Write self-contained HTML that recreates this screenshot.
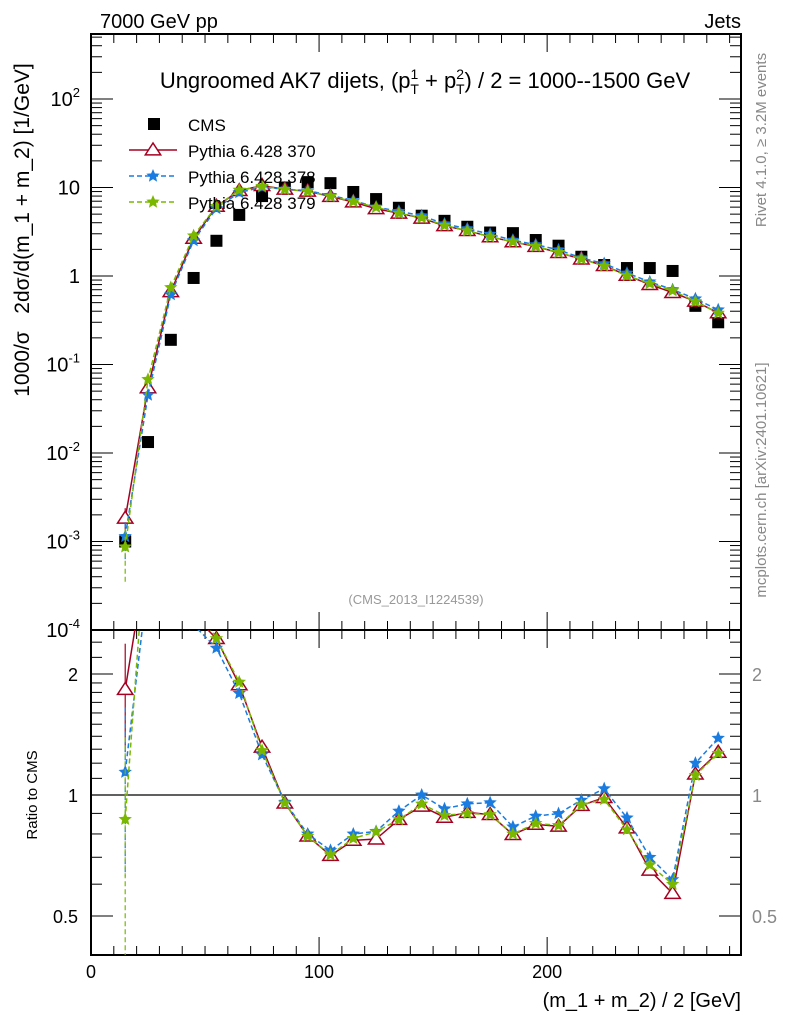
<!DOCTYPE html>
<html><head><meta charset="utf-8"><style>
body{margin:0;background:#fff}
svg{display:block;font-family:"Liberation Sans",sans-serif}
</style></head><body>
<svg id="c" width="786" height="1024" viewBox="0 0 786 1024">
<text x="100" y="28" font-size="20">7000 GeV pp</text>
<text x="741" y="28" font-size="20" text-anchor="end">Jets</text>
<text x="425" y="88" font-size="22" text-anchor="middle">Ungroomed AK7 dijets, (p<tspan font-size="14" dy="-9">1</tspan><tspan font-size="14" dx="-8" dy="15">T</tspan><tspan dy="-6"> + p</tspan><tspan font-size="14" dy="-9">2</tspan><tspan font-size="14" dx="-8" dy="15">T</tspan><tspan dy="-6">) / 2 = 1000--1500 GeV</tspan></text>
<text x="416" y="604" font-size="13" fill="#999" text-anchor="middle">(CMS_2013_I1224539)</text>
<text transform="translate(766,140) rotate(-90)" font-size="15" fill="#888" text-anchor="middle">Rivet 4.1.0, ≥ 3.2M events</text>
<text transform="translate(766,480) rotate(-90)" font-size="15" fill="#888" text-anchor="middle">mcplots.cern.ch [arXiv:2401.10621]</text>
<text transform="translate(29,230) rotate(-90)" font-size="21" text-anchor="middle" xml:space="preserve">1000/σ   2dσ/d(m_1 + m_2) [1/GeV]</text>
<text transform="translate(37,795) rotate(-90)" font-size="15" text-anchor="middle">Ratio to CMS</text>
<text x="741" y="1007" font-size="20" text-anchor="end">(m_1 + m_2) / 2 [GeV]</text>
<g id="g"></g>
</svg>
<script>
const xs=[15,25,35,45,55,65,75,85,95,105,115,125,135,145,155,165,175,185,195,205,215,225,235,245,255,265,275];
const cms=[0.001,0.0133,0.19,0.95,2.5,4.9,8,10,11.5,11.2,8.9,7.4,5.9,4.8,4.2,3.6,3.1,3.05,2.55,2.2,1.65,1.33,1.23,1.23,1.14,0.46,0.30];
const r370=[1.83,4.1,3.5,2.8,2.45,1.88,1.315,0.955,0.79,0.707,0.771,0.777,0.869,0.938,0.88,0.905,0.894,0.797,0.845,0.836,0.942,0.985,0.828,0.65,0.569,1.127,1.277];
const r378=[1.14,3.4,3.25,2.65,2.32,1.79,1.26,0.96,0.80,0.728,0.80,0.812,0.912,1.0,0.924,0.951,0.957,0.833,0.886,0.899,0.971,1.037,0.877,0.70,0.616,1.20,1.385];
const r379=[0.87,5.1,3.9,3.0,2.45,1.91,1.29,0.955,0.79,0.71,0.78,0.81,0.869,0.95,0.89,0.90,0.894,0.80,0.85,0.84,0.945,0.975,0.82,0.67,0.60,1.12,1.27];
const err370=[0.3,0.05,0.02,0.01,0.01,0.01,0.01,0.01,0.01,0.01,0.01,0.01,0.01,0.01,0.01,0.01,0.01,0.01,0.01,0.01,0.01,0.01,0.01,0.01,0.01,0.01,0.01];
const err378=[0.45,0.05,0.02,0.01,0.01,0.01,0.01,0.01,0.01,0.01,0.01,0.01,0.01,0.01,0.01,0.01,0.01,0.01,0.01,0.01,0.01,0.01,0.01,0.01,0.01,0.01,0.01];
const err379=[0.6,0.05,0.02,0.01,0.01,0.01,0.01,0.01,0.01,0.01,0.01,0.01,0.01,0.01,0.01,0.01,0.01,0.01,0.01,0.01,0.01,0.01,0.01,0.01,0.01,0.01,0.01];
const xTicks=[0,100,200];
const yTicks=[-4,-3,-2,-1,0,1,2];
const rTicks=[0.5,1,2];

const L=91,R=741,T=34,M=630,B=955;
const X=v=>L+v*(R-L)/285;
const Y=v=>276-88.5*Math.log10(v);
const RY=v=>795-121*Math.log2(v);
const g=document.getElementById('g');
const NS='http://www.w3.org/2000/svg';
function mk(t,a,p){const e=document.createElementNS(NS,t);for(const k in a)e.setAttribute(k,a[k]);(p||g).appendChild(e);return e;}

let f1=mk('rect',{x:L,y:T,width:R-L,height:M-T,fill:'none',stroke:'#000','stroke-width':2});


let f2=mk('rect',{x:L,y:M,width:R-L,height:B-M,fill:'none',stroke:'#000','stroke-width':2});



for(let v=0;v<=280;v+=10){const big=v%100===0,len=big?18:9;
 for(const [y0,dir] of [[M,-1],[T,1],[B,-1],[M,1]]) mk('line',{x1:X(v),x2:X(v),y1:y0,y2:y0+dir*len,stroke:'#000','stroke-width':1});}
xTicks.forEach(v=>{const t=mk('text',{x:X(v),y:978,'font-size':18,'text-anchor':'middle'});t.textContent=v;
 
 });

yTicks.forEach(d=>{const y=Y(Math.pow(10,d));
 mk('line',{x1:L,x2:L+22,y1:y,y2:y,stroke:'#000'});mk('line',{x1:R,x2:R-22,y1:y,y2:y,stroke:'#000'});
 for(let m=2;m<10;m++){const yy=Y(m*Math.pow(10,d));if(yy<T)continue;mk('line',{x1:L,x2:L+11,y1:yy,y2:yy,stroke:'#000'});mk('line',{x1:R,x2:R-11,y1:yy,y2:yy,stroke:'#000'});}
 const t=mk('text',{x:80,y:y+7,'font-size':20,'text-anchor':'end'});
 
 
 if(d===0)t.textContent='1';else if(d===1)t.textContent='10';
 else{t.textContent='10';const s=mk('tspan',{'font-size':13,dy:-9},t);s.textContent=d;}
});

rTicks.forEach(v=>{const y=RY(v);mk('line',{x1:L,x2:L+22,y1:y,y2:y,stroke:'#000'});mk('line',{x1:R,x2:R-22,y1:y,y2:y,stroke:'#000'});
 for(const s of [72,R+12]){const t=mk('text',{x:s==72?78:752,y:y+7,'font-size':18,'text-anchor':s==72?'end':'start',fill:s==72?'#000':'#888'});t.textContent=v;
 
 }});
[0.6,0.7,0.8,0.9,1.1,1.2,1.3,1.4,1.5,1.6,1.7,1.8,1.9,2.2,2.4].forEach(v=>{const y=RY(v);mk('line',{x1:L,x2:L+11,y1:y,y2:y,stroke:'#000'});mk('line',{x1:R,x2:R-11,y1:y,y2:y,stroke:'#000'});});
mk('line',{x1:L,x2:R,y1:RY(1),y2:RY(1),stroke:'#000','stroke-width':1.3});

const defs=mk('defs',{});
const c1=mk('clipPath',{id:'cm'},defs);mk('rect',{x:L,y:T,width:R-L,height:M-T},c1);
const c2=mk('clipPath',{id:'cr'},defs);mk('rect',{x:L,y:M,width:R-L,height:B-M},c2);
const gm=mk('g',{'clip-path':'url(#cm)'});
const gr=mk('g',{'clip-path':'url(#cr)'});

function star(cx,cy,r,col,p){let pts=[];for(let i=0;i<10;i++){const a=-Math.PI/2+i*Math.PI/5,rr=i%2?r*0.45:r;pts.push((cx+rr*Math.cos(a)).toFixed(1)+','+(cy+rr*Math.sin(a)).toFixed(1));}
 return mk('polygon',{points:pts.join(' '),fill:col,stroke:col,'stroke-width':0.8},p);}
function tri(cx,cy,r,col,p){return mk('polygon',{points:`${cx},${cy-r} ${cx-r*1.1},${cy+r*0.7} ${cx+r*1.1},${cy+r*0.7}`,fill:'#fff',stroke:col,'stroke-width':1.5},p);}

const series=[
 {r:r370,e:err370,col:'#a50021',dash:'',m:'tri',name:'pythia-370'},
 {r:r378,e:err378,col:'#1a7be0',dash:'5,3',m:'star',name:'pythia-378'},
 {r:r379,e:err379,col:'#7ab800',dash:'5,3',m:'star',name:'pythia-379'}];

xs.forEach((x,i)=>{const r=mk('rect',{x:X(x)-6,y:Y(cms[i])-6,width:12,height:12,fill:'#000'},gm);
 
 });

series.forEach(s=>{
 const vals=xs.map((x,i)=>s.r[i]*cms[i]);
 const ptsM=xs.map((x,i)=>X(x)+','+Y(vals[i]).toFixed(1)).join(' ');
 const ptsR=xs.map((x,i)=>X(x)+','+RY(s.r[i]).toFixed(1)).join(' ');
 const l1=mk('polyline',{points:ptsM,fill:'none',stroke:s.col,'stroke-width':1.5,'stroke-dasharray':s.dash},gm);
 
 
 const l2=mk('polyline',{points:ptsR,fill:'none',stroke:s.col,'stroke-width':1.5,'stroke-dasharray':s.dash},gr);
 
 
 xs.forEach((x,i)=>{
  const v=vals[i],e=s.e[i],r=s.r[i];
  mk('line',{x1:X(x),x2:X(x),y1:Y(v*(1+e)),y2:Y(Math.max(v*(1-e),1e-6)),stroke:s.col,'stroke-width':1.2,'stroke-dasharray':s.dash},gm);
  mk('line',{x1:X(x),x2:X(x),y1:RY(r*(1+e)),y2:RY(Math.max(r*(1-e),0.01)),stroke:s.col,'stroke-width':1.2,'stroke-dasharray':s.dash},gr);
  const a=s.m==='tri'?tri(X(x),Y(v),7,s.col,gm):star(X(x),Y(v),6,s.col,gm);
  
  
  const b=s.m==='tri'?tri(X(x),RY(r),7,s.col,gr):star(X(x),RY(r),6,s.col,gr);
  
  
 });
});

const lg=mk('g',{});


mk('rect',{x:148,y:118,width:12,height:12,fill:'#000'},lg);
const labels=['CMS','Pythia 6.428 370','Pythia 6.428 378','Pythia 6.428 379'];
labels.forEach((t,i)=>{const y=124+i*26;const tx=mk('text',{x:188,y:y+7,'font-size':17},lg);tx.textContent=t;
 
 
 if(i>0){const s=series[i-1];mk('line',{x1:129,x2:177,y1:y,y2:y,stroke:s.col,'stroke-width':1.5,'stroke-dasharray':s.dash},lg);
  if(s.m==='tri')tri(153,y,7,s.col,lg);else star(153,y,6,s.col,lg);}
});
</script>
</body></html>
